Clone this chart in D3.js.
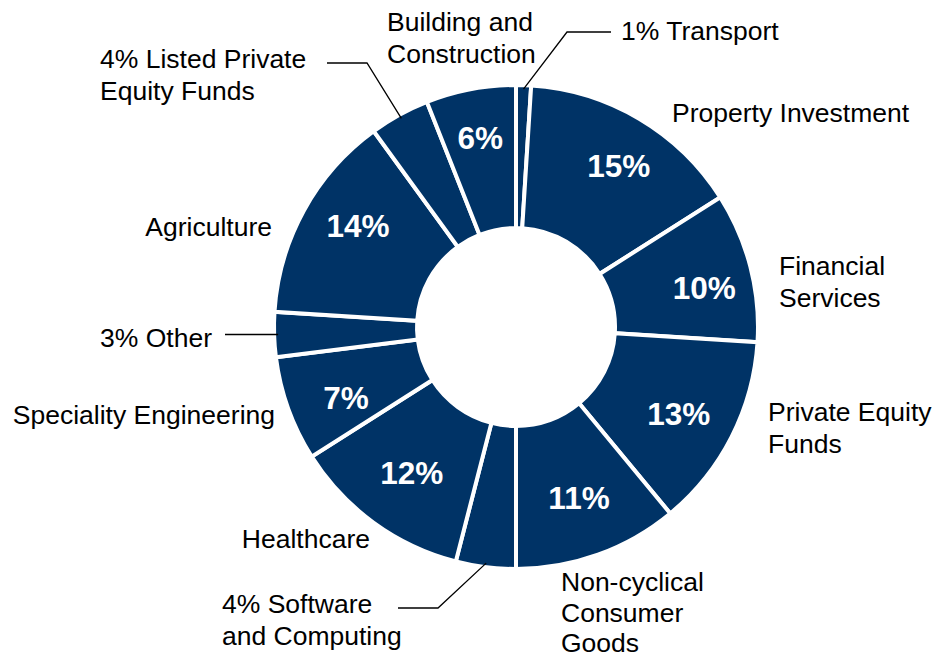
<!DOCTYPE html>
<html>
<head>
<meta charset="utf-8">
<script src="https://cdn.jsdelivr.net/npm/d3@7"></script>
<style>
  html, body { margin: 0; padding: 0; background: #ffffff; }
  svg { display: block; }
</style>
</head>
<body>
<svg id="chart" width="936" height="659"></svg>
<script>
// ---- data ----
const categories = [
  "Transport", "Property Investment", "Financial Services", "Private Equity Funds",
  "Non-cyclical Consumer Goods", "Software and Computing", "Healthcare",
  "Speciality Engineering", "Other", "Agriculture", "Listed Private Equity Funds",
  "Building and Construction"
];
const values = [1, 15, 10, 13, 11, 4, 12, 7, 3, 14, 4, 6];
// label text lines shown next to each slice
const labelLines = [
  ["1% Transport"],
  ["Property Investment"],
  ["Financial", "Services"],
  ["Private Equity", "Funds"],
  ["Non-cyclical", "Consumer", "Goods"],
  ["4% Software", "and Computing"],
  ["Healthcare"],
  ["Speciality Engineering"],
  ["3% Other"],
  ["Agriculture"],
  ["4% Listed Private", "Equity Funds"],
  ["Building and", "Construction"]
];
// which slices carry an inside percent label
const insideLabel = [false, true, true, true, true, false, true, true, false, true, false, true];

// ---- layout (positions of the outside labels, separate from data) ----
const labelLayout = [
  { x: 621, y: 40,  anchor: "start", lh: 31.5 },
  { x: 672, y: 122, anchor: "start", lh: 31.5 },
  { x: 779, y: 275, anchor: "start", lh: 31.5 },
  { x: 768, y: 421, anchor: "start", lh: 31.5 },
  { x: 561, y: 591, anchor: "start", lh: 30.5 },
  { x: 222, y: 613, anchor: "start", lh: 31.5 },
  { x: 370, y: 548, anchor: "end",   lh: 31.5 },
  { x: 275, y: 424, anchor: "end",   lh: 31.5 },
  { x: 212, y: 347, anchor: "end",   lh: 31.5 },
  { x: 272, y: 236, anchor: "end",   lh: 31.5 },
  { x: 100, y: 68,  anchor: "start", lh: 31.5 },
  { x: 387, y: 31,  anchor: "start", lh: 31.5 }
];
// small nudges of the inside percent labels from the arc centroid
const pctNudge = [
  [0, 0], [8, -1], [8, 7], [-3, 2], [0, -4], [0, 0],
  [5, -5], [5, 8], [0, 0], [5, -12], [0, 0], [-1, -7]
];
// leader elbows for the small slices (index -> list of points after the slice anchor)
const leaderLayout = {
  0:  [[567, 32], [611, 32]],
  5:  [[438, 608], [398, 608]],
  8:  [[225, null]],
  10: [[367, 63], [327, 63]]
};

const W = 936, H = 659;
const cx = 516, cy = 327;
const outerR = 242, innerR = 99;
const fillColor = "#003366";
const fontFamily = "'Liberation Sans', Arial, Helvetica, sans-serif";

const svg = d3.select("#chart");
const g = svg.append("g").attr("transform", `translate(${cx},${cy})`);

const pie = d3.pie().sort(null).value(d => d.value).startAngle(0).endAngle(2 * Math.PI);
const data = categories.map((c, i) => ({ name: c, value: values[i], i }));
const arcs = pie(data);

const arc = d3.arc().innerRadius(innerR).outerRadius(outerR);
const labelArc = d3.arc().innerRadius(186).outerRadius(186);
const anchorArc = d3.arc().innerRadius(238).outerRadius(238);

g.selectAll("path.slice")
  .data(arcs)
  .join("path")
  .attr("class", "slice")
  .attr("d", arc)
  .attr("fill", fillColor)
  .attr("stroke", "#ffffff")
  .attr("stroke-width", 4)
  .attr("stroke-linejoin", "miter");

// inside percent labels
g.selectAll("text.pct")
  .data(arcs.filter(d => insideLabel[d.data.i]))
  .join("text")
  .attr("class", "pct")
  .attr("transform", d => {
    const c = labelArc.centroid(d);
    const n = pctNudge[d.data.i];
    return `translate(${c[0] + n[0]},${c[1] + n[1]})`;
  })
  .attr("text-anchor", "middle")
  .attr("dy", "0.36em")
  .attr("fill", "#ffffff")
  .attr("font-family", fontFamily)
  .attr("font-weight", "bold")
  .attr("font-size", 31.5)
  .text(d => d.data.value + "%");

// leader lines
const line = d3.line();
Object.keys(leaderLayout).forEach(k => {
  const idx = +k;
  const a = arcs[idx];
  const p0 = anchorArc.centroid(a);
  const start = [p0[0] + cx, p0[1] + cy];
  const pts = [start].concat(leaderLayout[k].map(p => [p[0], p[1] === null ? start[1] : p[1]]));
  svg.append("path")
    .attr("d", line(pts))
    .attr("fill", "none")
    .attr("stroke", "#000000")
    .attr("stroke-width", 1.3);
});

// outside labels
const outer = svg.append("g")
  .attr("font-family", fontFamily)
  .attr("font-size", 26.5)
  .attr("fill", "#000000");
categories.forEach((c, i) => {
  const L = labelLayout[i];
  const t = outer.append("text")
    .attr("x", L.x)
    .attr("y", L.y)
    .attr("text-anchor", L.anchor);
  labelLines[i].forEach((ln, j) => {
    t.append("tspan")
      .attr("x", L.x)
      .attr("y", L.y + j * L.lh)
      .text(ln);
  });
});
</script>
</body>
</html>
